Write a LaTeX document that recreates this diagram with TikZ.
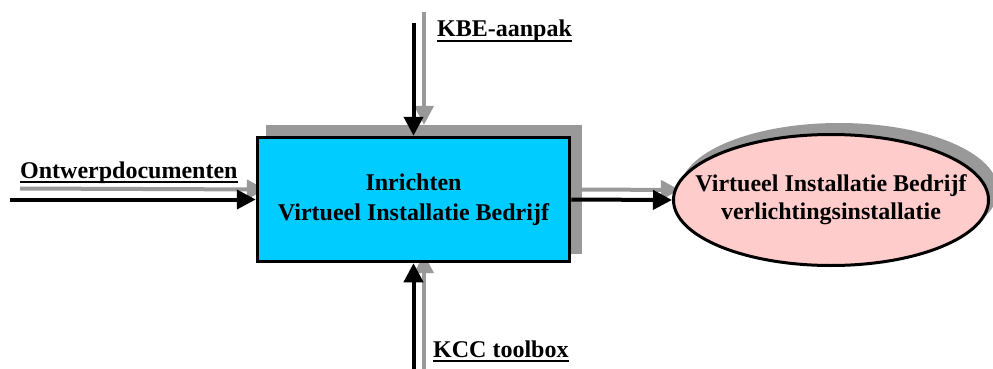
\documentclass[tikz,border=0pt]{standalone}
\usepackage{fontspec}
\setmainfont{Liberation Serif}
\usetikzlibrary{arrows.meta,shapes.geometric}
\definecolor{shgray}{HTML}{999999}
\definecolor{boxcyan}{HTML}{00CCFF}
\definecolor{ellpink}{HTML}{FFCCCC}
\newcommand\myul[1]{\setbox0\hbox{#1}\rlap{\rule[-5pt]{\wd0}{2pt}}\box0}
\begin{document}
\begin{tikzpicture}[x=1pt,y=-1pt,
  txt/.style={font=\fontsize{24}{30}\selectfont\bfseries},
  lbl/.style={txt,inner sep=0pt,anchor=base west},
  procbox/.style={draw=black,line width=3.5pt,fill=boxcyan,minimum width=312pt,minimum height=124pt,inner sep=0pt,align=center,txt},
  procshadow/.style={fill=shgray,minimum width=316pt,minimum height=129pt,inner sep=0pt},
  outell/.style={ellipse,draw=black,line width=3pt,fill=ellpink,minimum width=315pt,minimum height=131pt,inner sep=0pt},
  outshadow/.style={ellipse,fill=shgray,minimum width=318pt,minimum height=134pt,inner sep=0pt},
  elltxt/.style={align=center,inner sep=0pt,font=\fontsize{24}{28}\selectfont\bfseries},
  flow/.style={line width=4pt,-{Triangle[length=19pt,width=19pt]}},
  shflow/.style={flow,draw=shgray,color=shgray}]
\useasboundingbox (0,0) rectangle (993,369);
% shadows
\node[procshadow] (procsh) at (424,189.5) {};
\node[outshadow] (outsh) at (839,190) {};
% shadow arrows
\coordinate (inS) at (20,188.5);
\coordinate (ctlS) at (424,12);
\coordinate (mechS) at (424,369);
\draw[shflow] (inS) -- (procsh.west);
\draw[shflow] (ctlS) -- (procsh.north);
\draw[shflow] (mechS) -- (procsh.south);
\draw[shflow] (procsh.east) -- (outsh.west);
% main nodes
\node[procbox] (proc) at (413.5,199.5) {Inrichten\\Virtueel Installatie Bedrijf};
\node[outell] (out) at (831,200) {};
\node[elltxt] (outtxt) at (out.center) {Virtueel Installatie Bedrijf\\verlichtingsinstallatie};
% black arrows
\coordinate (in) at (10,199.5);
\coordinate (ctl) at (413.5,23);
\coordinate (mech) at (413.5,369);
\draw[flow] (in) -- (proc.west);
\draw[flow] (ctl) -- (proc.north);
\draw[flow] (mech) -- (proc.south);
\draw[flow] (proc.east) -- (out.west);
% labels
\node[lbl] (lin) at (20,178) {\myul{Ontwerpdocumenten}};
\node[lbl] (lctl) at (437,37) {\myul{KBE-aanpak}};
\node[lbl] (lmech) at (433,357) {\myul{KCC toolbox}};
\end{tikzpicture}
\end{document}
